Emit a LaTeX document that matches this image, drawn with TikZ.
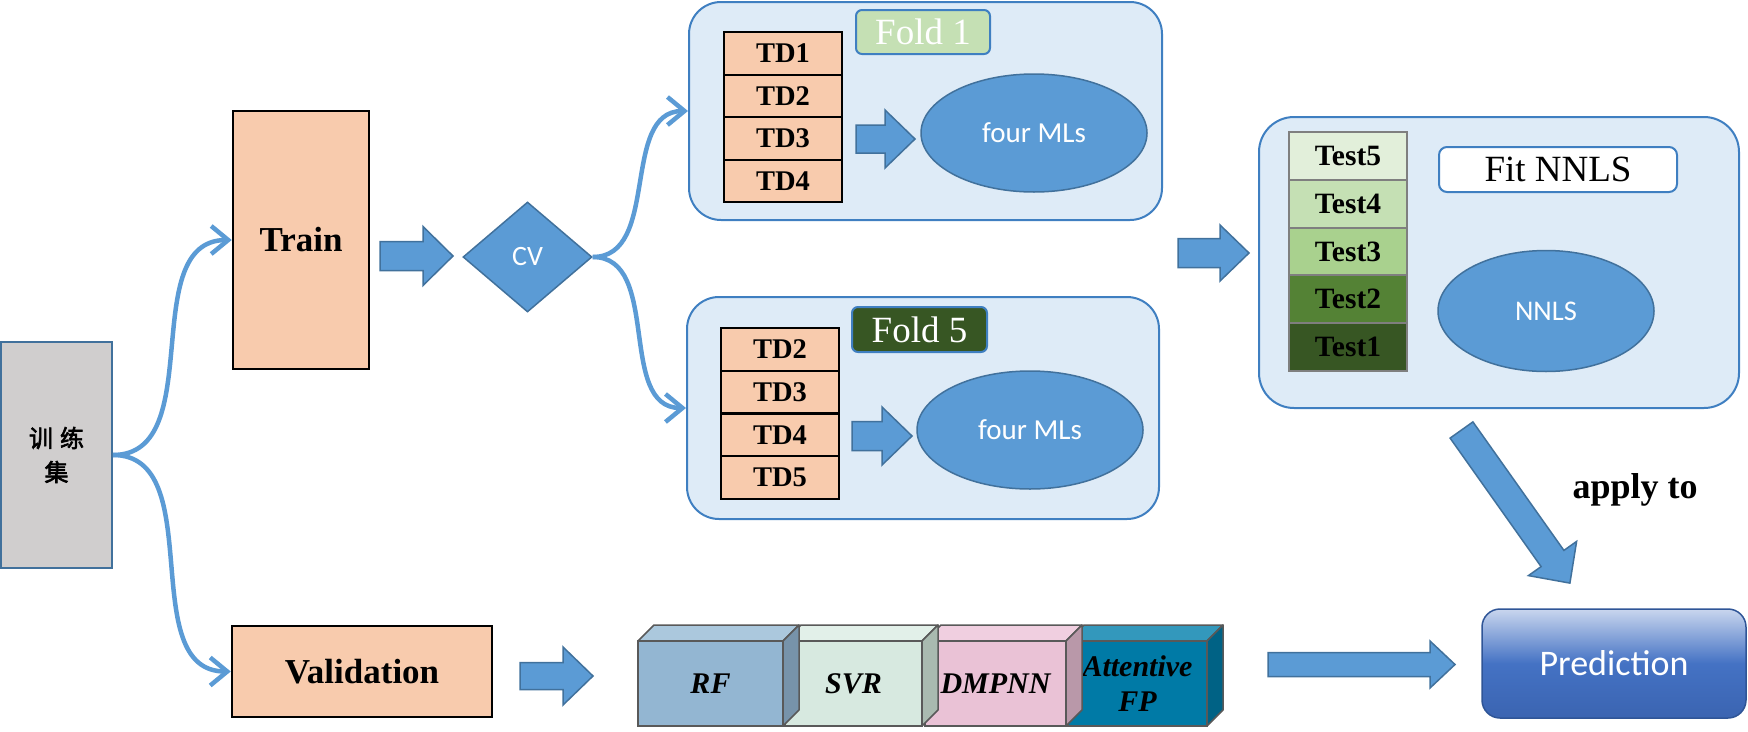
\documentclass[tikz,border=0pt]{standalone}
\usepackage{fontspec}
\setmainfont{Liberation Serif}
\newfontfamily\calibri{Carlito}
\newfontfamily\cjk{Noto Sans CJK SC}[FakeBold=2.5]
\usetikzlibrary{shapes.geometric,arrows.meta}

\definecolor{arrowblue}{HTML}{5B9BD5}
\definecolor{arrowline}{HTML}{41719C}
\definecolor{foldfill}{HTML}{DEEBF7}
\definecolor{foldline}{HTML}{3F7FC1}
\definecolor{peach}{HTML}{F8CBAD}
\definecolor{srcgray}{HTML}{D0CECE}
\definecolor{srcline}{HTML}{41719C}
\definecolor{fold1green}{HTML}{C5E0B4}
\definecolor{fold5green}{HTML}{375623}
\definecolor{gA}{HTML}{E2EFDA}
\definecolor{gB}{HTML}{C5E0B4}
\definecolor{gC}{HTML}{A9D18E}
\definecolor{gD}{HTML}{548235}
\definecolor{gE}{HTML}{375623}
\definecolor{testline}{HTML}{7F7F7F}
\definecolor{cubeline}{HTML}{595959}
\definecolor{rfF}{HTML}{93B6D2}
\definecolor{rfT}{HTML}{ABC8DD}
\definecolor{rfS}{HTML}{7793AA}
\definecolor{svrF}{HTML}{D7E9E0}
\definecolor{svrT}{HTML}{E2F0E9}
\definecolor{svrS}{HTML}{A9BAB0}
\definecolor{dmF}{HTML}{EAC2D6}
\definecolor{dmT}{HTML}{F0CFE0}
\definecolor{dmS}{HTML}{B998A9}
\definecolor{afF}{HTML}{007AA6}
\definecolor{afT}{HTML}{3398BC}
\definecolor{afS}{HTML}{006285}
\definecolor{predTop}{HTML}{C9D6EE}
\definecolor{predMid}{HTML}{4472C4}
\definecolor{predBot}{HTML}{3B64B1}
\definecolor{predLine}{HTML}{2F5597}

\tikzset{
  peachbox/.style={draw=black, fill=peach, line width=2.5pt, inner sep=0pt,
    font=\bfseries\fontsize{35}{35}\selectfont},
  tdrow/.style={draw=black, fill=peach, line width=2pt, inner sep=0pt,
    minimum width=118pt, minimum height=42.5pt,
    font=\bfseries\fontsize{28.5}{28.5}\selectfont},
  testrow/.style={draw=testline, line width=2pt, inner sep=0pt,
    minimum width=118pt, minimum height=47.8pt,
    font=\bfseries\fontsize{29.5}{29.5}\selectfont},
  foldbox/.style={draw=foldline, fill=foldfill, line width=2pt,
    rounded corners=32pt, inner sep=0pt},
  foldlab/.style={draw=foldline, line width=2pt, rounded corners=6pt,
    minimum width=134pt, minimum height=44pt, inner sep=0pt, text=white,
    font=\fontsize{37}{37}\selectfont},
  mlell/.style={ellipse, draw=arrowline, fill=arrowblue, line width=1.5pt,
    text=white, inner sep=0pt, font=\calibri\fontsize{29}{29}\selectfont},
  blk/.style={fill=arrowblue, draw=arrowline, line width=1.5pt, line join=miter},
  conn/.style={draw=arrowblue, line width=4.5pt,
    -{Straight Barb[length=17pt,width=28pt]}},
  cubetext/.style={align=center, inner sep=0pt,
    font=\bfseries\itshape\fontsize{30}{35}\selectfont},
  pics/barrow/.style n args={4}{code={%
    \path[blk] (0,-#2) -- ({#1-#4},-#2) -- ({#1-#4},-#3) -- (#1,0)
      -- ({#1-#4},#3) -- ({#1-#4},#2) -- (0,#2) -- cycle;}}
}

\newcommand\modelcube[7]{%
  \path[draw=cubeline, fill=#5, line width=1.5pt, line join=round]
    (#2,641) -- (#2+16,625) -- (#3+16,625) -- (#3,641) -- cycle;
  \path[draw=cubeline, fill=#6, line width=1.5pt, line join=round]
    (#3,641) -- (#3+16,625) -- (#3+16,710) -- (#3,726) -- cycle;
  \path[draw=cubeline, fill=#4, line width=1.5pt] (#2,641) rectangle (#3,726);
  \node[cubetext] (#1) at ({(#2+#3)/2},684) {#7};
}

\begin{document}
\begin{tikzpicture}[x=1pt,y=-1pt]
\useasboundingbox (0,0) rectangle (1748,731);

% source box
\node[draw=srcline, fill=srcgray, line width=2pt, minimum width=111pt,
  minimum height=226pt, inner sep=0pt, align=center,
  font=\cjk\fontsize{24}{34}\selectfont] (src) at (56.5,455)
  {训\hspace{7pt}练\\集};

% train / validation
\node[peachbox, minimum width=136pt, minimum height=258pt] (train) at (301,240) {Train};
\node[peachbox, minimum width=260pt, minimum height=91pt] (valid) at (362,671.5) {Validation};

% CV diamond
\node[diamond, draw=arrowline, fill=arrowblue, line width=1.5pt,
  minimum width=129pt, minimum height=110pt, inner sep=0pt, text=white,
  font=\calibri\fontsize{28}{28}\selectfont] (cv) at (527.5,257) {CV};

% fold containers
\node[foldbox, minimum width=473pt, minimum height=218pt] (fold1) at (925.5,111) {};
\node[foldbox, minimum width=472pt, minimum height=222pt] (fold5) at (923,408) {};
\node[foldbox, rounded corners=35pt, minimum width=480pt, minimum height=291pt] (nnlsbox) at (1499,262.5) {};

% fold 1 content
\node[tdrow] (fa1) at (783,53.25) {TD1};
\node[tdrow] (fa2) at (783,95.75) {TD2};
\node[tdrow] (fa3) at (783,138.25) {TD3};
\node[tdrow] (fa4) at (783,180.75) {TD4};
\node[foldlab, fill=fold1green] (f1lab) at (923,32) {Fold 1};
\node[mlell, minimum width=226pt, minimum height=118pt] (ml1) at (1034,133) {four MLs};
\pic at (856,139) {barrow={59}{14}{29}{30}};

% fold 5 content
\node[tdrow] (fb1) at (780,349.4) {TD2};
\node[tdrow] (fb2) at (780,392.1) {TD3};
\node[tdrow] (fb3) at (780,434.9) {TD4};
\node[tdrow] (fb4) at (780,477.6) {TD5};
\node[foldlab, fill=fold5green, minimum width=135pt, minimum height=45pt] (f5lab) at (919.5,329.5) {Fold 5};
\node[mlell, minimum width=226pt, minimum height=118pt] (ml5) at (1030,430) {four MLs};
\pic at (852,436) {barrow={60}{14.5}{29}{30}};

% NNLS content
\node[testrow, fill=gA] (t5) at (1348,155.9) {Test5};
\node[testrow, fill=gB] (t4) at (1348,203.7) {Test4};
\node[testrow, fill=gC] (t3) at (1348,251.5) {Test3};
\node[testrow, fill=gD] (t2) at (1348,299.3) {Test2};
\node[testrow, fill=gE] (t1) at (1348,347.1) {Test1};
\node[draw=foldline, fill=white, line width=2pt, rounded corners=8pt,
  minimum width=238pt, minimum height=45pt, inner sep=0pt,
  font=\fontsize{37}{37}\selectfont] (fit) at (1558,169.5) {Fit NNLS};
\node[mlell, font=\calibri\fontsize{28.5}{28.5}\selectfont,
  minimum width=216pt, minimum height=121pt] (nnls) at (1546,311) {NNLS};

% block arrows
\pic at (380,256) {barrow={73}{14.5}{29.5}{30}};
\pic at (1178,253) {barrow={71}{14.5}{28}{29}};
\pic at (520,676) {barrow={73}{13.5}{29}{30}};
\pic at (1268,664.5) {barrow={187}{12}{23.5}{25}};
\path[blk] (1472.9,421.9) -- (1563.9,550.4) -- (1576.6,541.4) -- (1569.9,583.1)
  -- (1528.4,575.6) -- (1541.1,566.6) -- (1450.1,438.1) -- cycle;

\node[font=\bfseries\fontsize{36}{36}\selectfont, inner sep=0pt] (applyto) at (1635,490) {apply to};

% model cubes (right to left)
\modelcube{afp}{1068}{1207}{afF}{afT}{afS}{Attentive\\FP}
\modelcube{dmpnn}{925}{1066}{dmF}{dmT}{dmS}{DMPNN}
\modelcube{svr}{785}{922}{svrF}{svrT}{svrS}{SVR}
\modelcube{rf}{638}{783}{rfF}{rfT}{rfS}{RF}

% prediction
\node[draw=predLine, line width=1.5pt, rounded corners=18pt,
  top color=predTop, bottom color=predBot, middle color=predMid,
  minimum width=264pt, minimum height=109pt, inner sep=0pt, text=white,
  font=\calibri\fontsize{36}{36}\selectfont] (pred) at (1614,663.5) {Prediction};

% curved connectors
\draw[conn] (src.east) to[out=0,in=180] (train.west);
\draw[conn] (src.east) to[out=0,in=180] (valid.west);
\draw[conn] (cv.east) to[out=0,in=180] (fold1.west);
\draw[conn] (cv.east) to[out=0,in=180] (fold5.west);
\end{tikzpicture}
\end{document}
